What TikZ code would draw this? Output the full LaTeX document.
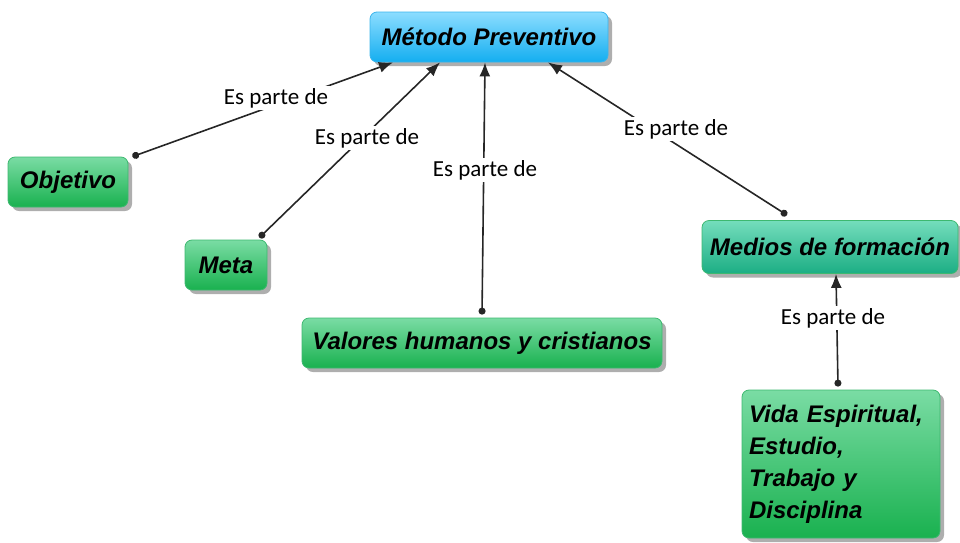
\documentclass[tikz,border=0pt]{standalone}
\usepackage{fontspec}
\setmainfont{Liberation Sans}
\newfontfamily\lblfont{Carlito}
\usetikzlibrary{shadows,arrows.meta}
\definecolor{gtop}{HTML}{7ADCA4}
\definecolor{gbot}{HTML}{19B14F}
\definecolor{gbrd}{HTML}{3DB870}
\definecolor{ttop}{HTML}{74DDBC}
\definecolor{tbot}{HTML}{1CAE84}
\definecolor{btop}{HTML}{8CDDFF}
\definecolor{bbot}{HTML}{14AEF0}
\definecolor{bbrd}{HTML}{3AB4EC}
\tikzset{
  concept/.style={rounded corners=7pt, draw=gbrd, line width=0.8pt,
    top color=gtop, bottom color=gbot, inner sep=0pt,
    font=\fontsize{24}{32}\selectfont\bfseries\itshape,
    drop shadow={shadow xshift=4pt, shadow yshift=-4pt, fill=black!70, opacity=0.45}},
  tealc/.style={concept, top color=ttop, bottom color=tbot},
  bluec/.style={concept, draw=bbrd, top color=btop, bottom color=bbot},
  lbl/.style={fill=white, inner sep=2pt, font=\lblfont\fontsize{23}{26}\selectfont},
  conn/.style={line width=1.6pt, draw=black!85, {Circle[length=7pt]}-{Latex[length=14pt,width=11pt]}}
}
\begin{document}
\begin{tikzpicture}[x=1pt,y=-1pt]
\useasboundingbox (0,0) rectangle (960,542);
\node[bluec, minimum width=238pt, minimum height=50pt] (mp) at (489,37) {Método Preventivo};
\node[concept, minimum width=120pt, minimum height=50pt] (obj) at (68,182) {Objetivo};
\node[concept, minimum width=82pt, minimum height=50pt] (meta) at (226,265) {Meta};
\node[concept, minimum width=360pt, minimum height=50pt] (val) at (482,343) {Valores humanos y cristianos};
\node[tealc, minimum width=256pt, minimum height=53pt] (med) at (830,247) {Medios de formación};
\node[concept, minimum width=198pt, minimum height=148pt, text width=184pt, align=left] (vida) at (841,464) {Vida Espiritual,\\Estudio,\\Trabajo y\\Disciplina};

\draw[conn] ([xshift=4pt]obj.north east) -- ([xshift=-96pt]mp.south);
\draw[conn] ([xshift=-8pt,yshift=2pt]meta.north east) -- ([xshift=-49pt]mp.south);
\draw[conn] ([yshift=3pt]val.north) -- ([xshift=-4pt]mp.south);
\draw[conn] ([xshift=-43pt,yshift=5pt]med.north) -- ([xshift=59pt]mp.south);
\draw[conn] ([xshift=-3pt,yshift=3pt]vida.north) -- ([xshift=6pt]med.south);

\node[lbl] (l1) at (276,98) {Es parte de};
\node[lbl] (l2) at (367,138) {Es parte de};
\node[lbl] (l3) at (485,170) {Es parte de};
\node[lbl] (l4) at (676,129) {Es parte de};
\node[lbl] (l5) at (833,318) {Es parte de};
\end{tikzpicture}
\end{document}
